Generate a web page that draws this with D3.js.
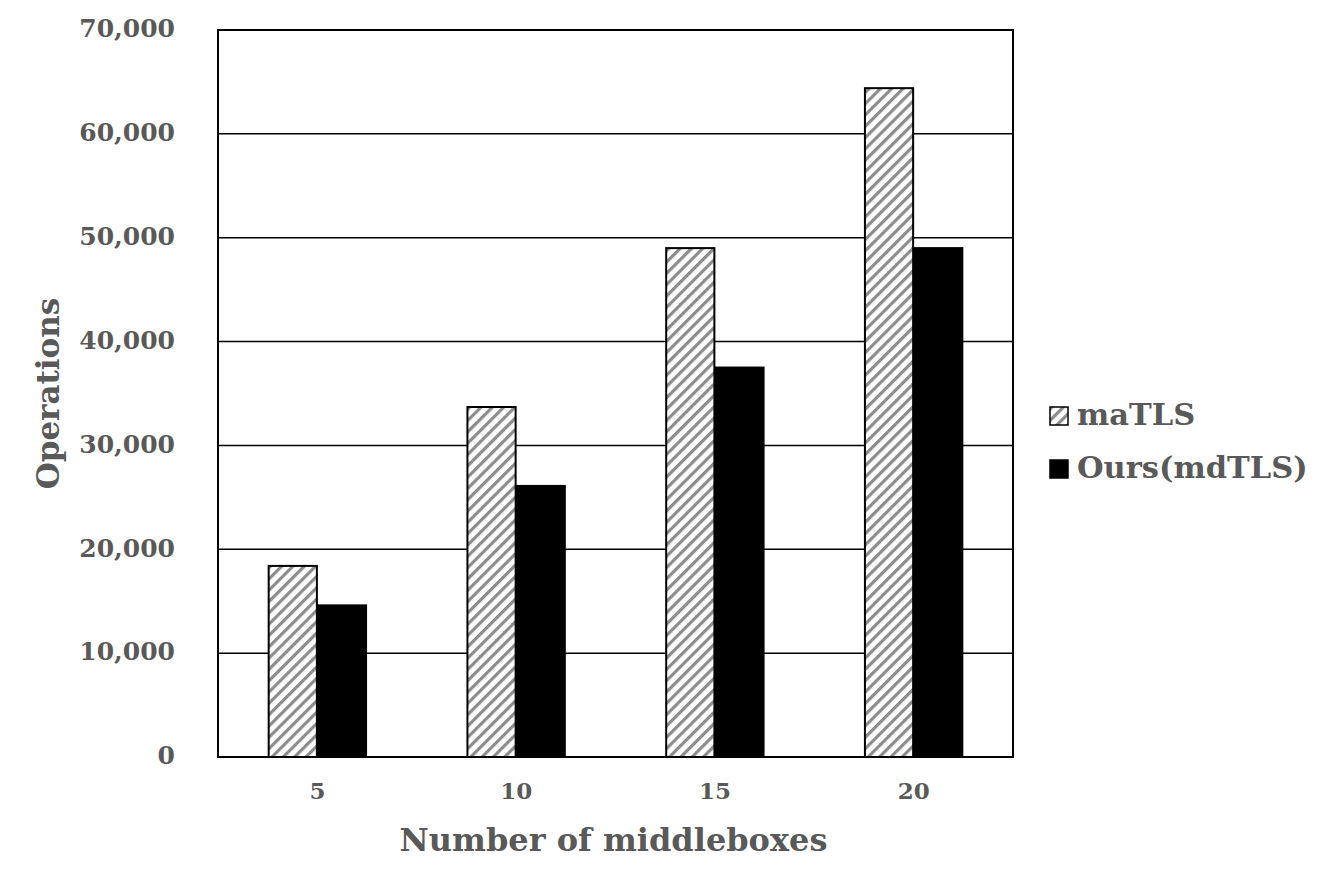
<!DOCTYPE html>
<html><head><meta charset="utf-8">
<script src="https://cdn.jsdelivr.net/npm/d3@7"></script>
<style>body{margin:0;background:#fff}</style>
</head><body>
<svg id="c" width="1334" height="889"></svg>
<script>
const categories = ["5","10","15","20"];
const seriesNames = ["maTLS","Ours(mdTLS)"];
const maTLS = [18400, 33700, 49000, 64400];
const ours = [14600, 26100, 37500, 49000];
const yTicks = [0,10000,20000,30000,40000,50000,60000,70000];

const svg = d3.select("#c");
const m = {l:218, r:1013, t:30, b:757};
const font = "'DejaVu Serif', 'Liberation Serif', serif";
const tc = "#595959";

const defs = svg.append("defs");
const pat = defs.append("pattern").attr("id","hatch").attr("patternUnits","userSpaceOnUse")
  .attr("width",8).attr("height",8).attr("patternTransform","rotate(45)");
pat.append("rect").attr("width",8).attr("height",8).attr("fill","#fff");
pat.append("rect").attr("x",0).attr("y",0).attr("width",3.2).attr("height",8).attr("fill","#8c8c8c");

const x0 = d3.scaleBand().domain(categories).range([m.l,m.r]).paddingInner(0.51).paddingOuter(0.255);
const x1 = d3.scaleBand().domain(seriesNames).range([0,x0.bandwidth()]).paddingInner(0.02);
const y = d3.scaleLinear().domain([0,70000]).range([m.b,m.t]);

// gridlines
svg.append("g").selectAll("line").data(yTicks).join("line")
  .attr("x1",m.l).attr("x2",m.r).attr("y1",d=>y(d)).attr("y2",d=>y(d))
  .attr("stroke","#000").attr("stroke-width",1.5);

const data = categories.map((c,i)=>({c, vals:[{s:seriesNames[0],v:maTLS[i]},{s:seriesNames[1],v:ours[i]}]}));
const g = svg.append("g").selectAll("g").data(data).join("g").attr("transform",d=>`translate(${x0(d.c)},0)`);
g.selectAll("rect").data(d=>d.vals).join("rect")
  .attr("x",d=>x1(d.s)).attr("width",x1.bandwidth())
  .attr("y",d=>y(d.v)).attr("height",d=>y(0)-y(d.v))
  .attr("fill",d=>d.s===seriesNames[0]?"url(#hatch)":"#000")
  .attr("stroke","#000").attr("stroke-width",2);

// frame
svg.append("rect").attr("x",m.l).attr("y",m.t).attr("width",m.r-m.l).attr("height",m.b-m.t)
  .attr("fill","none").attr("stroke","#000").attr("stroke-width",2);

// y axis
const yAxis = d3.axisLeft(y).tickValues(yTicks).tickFormat(d3.format(",")).tickSize(0).tickPadding(43);
const ya = svg.append("g").attr("transform",`translate(${m.l},0)`).call(yAxis);
ya.select(".domain").remove();
ya.selectAll("text").attr("font-family",font).attr("font-weight","bold").attr("font-size",25).attr("fill",tc).attr("dy","0.27em");

// x axis
const xAxis = d3.axisBottom(x0).tickSize(0).tickPadding(26);
const xa = svg.append("g").attr("transform",`translate(0,${m.b})`).call(xAxis);
xa.select(".domain").remove();
xa.selectAll("text").attr("font-family",font).attr("font-weight","bold").attr("font-size",23).attr("fill",tc);

// titles
svg.append("text").attr("x",(m.l+m.r)/2 - 2).attr("y",851).attr("text-anchor","middle")
  .attr("font-family",font).attr("font-weight","bold").attr("font-size",32).attr("fill",tc)
  .text("Number of middleboxes");
svg.append("text").attr("transform",`translate(59,${(m.t+m.b)/2}) rotate(-90)`).attr("text-anchor","middle")
  .attr("font-family",font).attr("font-weight","bold").attr("font-size",31).attr("fill",tc)
  .text("Operations");

// legend
const lg = svg.append("g").selectAll("g").data(seriesNames).join("g")
  .attr("transform",(d,i)=>`translate(1050,${407+i*53})`);
lg.append("rect").attr("width",18).attr("height",18)
  .attr("fill",(d,i)=>i===0?"url(#hatch)":"#000").attr("stroke","#000").attr("stroke-width",1.5);
lg.append("text").attr("x",27).attr("y",18).attr("font-family",font).attr("font-weight","bold")
  .attr("font-size",30.5).attr("fill",tc).text(d=>d);
</script>
</body></html>
